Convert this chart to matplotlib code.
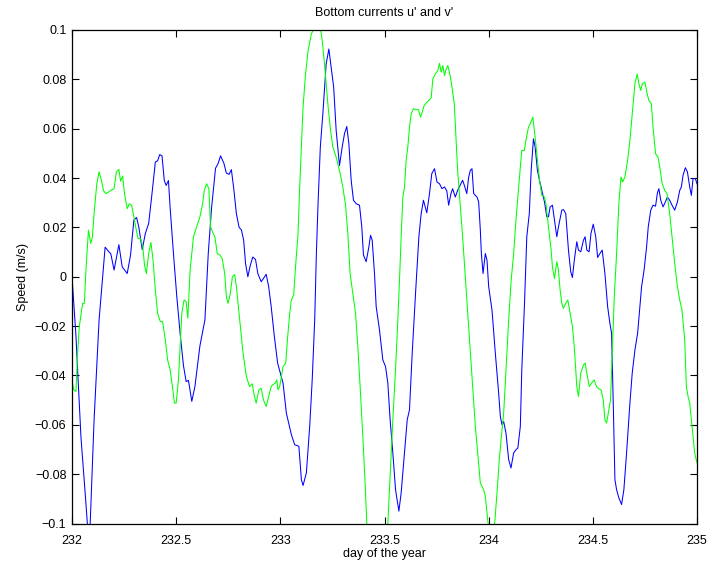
import matplotlib
matplotlib.use("Agg")
import matplotlib.pyplot as plt
import numpy as np

plt.rcParams['font.family'] = ['Liberation Sans', 'DejaVu Sans']

# u' (blue)
u_day = [232.000, 232.019, 232.043, 232.067, 232.077, 232.086, 232.106, 232.130, 232.159, 232.178,
         232.186, 232.202, 232.225, 232.241, 232.265, 232.281, 232.297, 232.310, 232.321, 232.337,
         232.352, 232.368, 232.384, 232.400, 232.411, 232.421, 232.432, 232.443, 232.452, 232.463,
         232.471, 232.487, 232.503, 232.519, 232.535, 232.548, 232.559, 232.575, 232.590, 232.614,
         232.638, 232.654, 232.670, 232.689, 232.702, 232.713, 232.729, 232.741, 232.754, 232.765,
         232.776, 232.789, 232.802, 232.813, 232.824, 232.833, 232.844, 232.856, 232.868, 232.881,
         232.892, 232.908, 232.919, 232.932, 232.944, 232.956, 232.971, 232.987,
         233.013, 233.029, 233.053, 233.069, 233.089, 233.101, 233.109, 233.125, 233.141, 233.153,
         233.165, 233.173, 233.181, 233.192, 233.204, 233.220, 233.233, 233.244, 233.256, 233.268,
         233.284, 233.297, 233.308, 233.319, 233.329, 233.340, 233.351, 233.364, 233.380, 233.391,
         233.399, 233.412, 233.425, 233.433, 233.441, 233.452, 233.460, 233.476, 233.492, 233.505,
         233.516, 233.527, 233.540, 233.553, 233.569, 233.580, 233.596, 233.609, 233.620, 233.633,
         233.649, 233.665, 233.676, 233.687, 233.703, 233.716, 233.727, 233.740, 233.752, 233.764,
         233.776, 233.788, 233.799, 233.808, 233.819, 233.827, 233.840, 233.851, 233.863, 233.875,
         233.883, 233.895,
         233.904, 233.912, 233.920, 233.928, 233.944, 233.952, 233.960, 233.965, 233.973, 233.984,
         233.992, 234.000, 234.016, 234.032, 234.048, 234.056, 234.064, 234.072, 234.083, 234.096,
         234.107, 234.120, 234.131, 234.140, 234.152, 234.159, 234.172, 234.183, 234.195, 234.204,
         234.215, 234.223, 234.234, 234.244, 234.255, 234.268, 234.279, 234.287, 234.295, 234.306,
         234.316, 234.327, 234.335, 234.351, 234.359, 234.370, 234.383, 234.394, 234.402, 234.411,
         234.423, 234.431, 234.442, 234.455, 234.463, 234.471, 234.482, 234.491, 234.502, 234.514,
         234.523, 234.534, 234.545, 234.558, 234.571, 234.582, 234.590, 234.598, 234.606, 234.614,
         234.625, 234.638, 234.649, 234.662, 234.678, 234.689, 234.702, 234.715, 234.726, 234.734,
         234.746, 234.758, 234.766, 234.778, 234.789, 234.801, 234.810, 234.817, 234.826, 234.837,
         234.848, 234.858, 234.869, 234.880, 234.893, 234.906, 234.917, 234.925, 234.933, 234.944,
         234.954, 234.965, 234.973, 234.981, 234.992, 235.000]
u_val = [0.0000, -0.0240, -0.0650, -0.0920, -0.1040, -0.1030, -0.0580, -0.0175, 0.0120, 0.0100,
         0.0094, 0.0027, 0.0130, 0.0040, 0.0013, 0.0088, 0.0230, 0.0240, 0.0200, 0.0110,
         0.0175, 0.0216, 0.0337, 0.0465, 0.0470, 0.0495, 0.0490, 0.0390, 0.0370, 0.0390,
         0.0280, 0.0094, -0.0080, -0.0230, -0.0360, -0.0425, -0.0420, -0.0505, -0.0445, -0.0280,
         -0.0175, 0.0094, 0.0280, 0.0440, 0.0460, 0.0490, 0.0460, 0.0420, 0.0415, 0.0434,
         0.0360, 0.0256, 0.0200, 0.0190, 0.0148, 0.0054, 0.0000, 0.0047, 0.0080, 0.0070,
         0.0013, -0.0020, -0.0007, 0.0010, -0.0040, -0.0120, -0.0240, -0.0350,
         -0.0431, -0.0553, -0.0640, -0.0681, -0.0687, -0.0822, -0.0846, -0.0795, -0.0606, -0.0418,
         -0.0175, 0.0094, 0.0296, 0.0526, 0.0660, 0.0863, 0.0923, 0.0849, 0.0768, 0.0593,
         0.0451, 0.0526, 0.0580, 0.0609, 0.0539, 0.0391, 0.0310, 0.0296, 0.0290, 0.0202,
         0.0088, 0.0061, 0.0121, 0.0168, 0.0148, 0.0013, -0.0121, -0.0216, -0.0337, -0.0364,
         -0.0431, -0.0580, -0.0714, -0.0863, -0.0950, -0.0876, -0.0714, -0.0580, -0.0539, -0.0310,
         -0.0067, 0.0162, 0.0256, 0.0310, 0.0259, 0.0337, 0.0418, 0.0438, 0.0384, 0.0377,
         0.0357, 0.0364, 0.0348, 0.0290, 0.0337, 0.0357, 0.0323, 0.0350, 0.0371, 0.0391,
         0.0371, 0.0337,
         0.0404, 0.0431, 0.0438, 0.0337, 0.0323, 0.0303, 0.0189, 0.0094, 0.0013, 0.0094,
         0.0067, -0.0040, -0.0135, -0.0310, -0.0472, -0.0566, -0.0600, -0.0587, -0.0633, -0.0741,
         -0.0775, -0.0714, -0.0701, -0.0694, -0.0606, -0.0377, -0.0108, 0.0162, 0.0256, 0.0431,
         0.0559, 0.0526, 0.0431, 0.0391, 0.0350, 0.0303, 0.0243, 0.0243, 0.0283, 0.0290,
         0.0229, 0.0162, 0.0202, 0.0270, 0.0272, 0.0256, 0.0108, 0.0020, -0.0003, 0.0067,
         0.0142, 0.0108, 0.0101, 0.0148, 0.0162, 0.0108, 0.0101, 0.0175, 0.0213, 0.0162,
         0.0078, 0.0094, 0.0108, 0.0013, -0.0121, -0.0189, -0.0229, -0.0512, -0.0822, -0.0863,
         -0.0896, -0.0923, -0.0863, -0.0714, -0.0512, -0.0391, -0.0297, -0.0229, -0.0121, -0.0040,
         0.0027, 0.0121, 0.0202, 0.0270, 0.0290, 0.0286, 0.0340, 0.0357, 0.0310, 0.0283,
         0.0303, 0.0323, 0.0310, 0.0290, 0.0270, 0.0303, 0.0350, 0.0364, 0.0411, 0.0442,
         0.0425, 0.0364, 0.0330, 0.0398, 0.0398, 0.0377]

# v' (green)
v_day = [232.000, 232.008, 232.019, 232.027, 232.035, 232.051, 232.059, 232.067, 232.079, 232.090,
         232.098, 232.106, 232.119, 232.130, 232.141, 232.151, 232.162, 232.175, 232.186, 232.202,
         232.213, 232.225, 232.233, 232.243, 232.252, 232.265, 232.275, 232.286, 232.297, 232.310,
         232.317, 232.329, 232.340, 232.348, 232.357, 232.368, 232.379, 232.389, 232.400, 232.411,
         232.424, 232.435, 232.448, 232.459, 232.471, 232.484, 232.492, 232.500, 232.511, 232.527,
         232.538, 232.548, 232.556, 232.567, 232.583, 232.598, 232.614, 232.627, 232.635, 232.646,
         232.657, 232.665, 232.678, 232.686, 232.697, 232.710, 232.721, 232.733, 232.741, 232.749,
         232.760, 232.770, 232.781, 232.789, 232.805, 232.821, 232.837, 232.852, 232.865, 232.876,
         232.884, 232.897, 232.908, 232.919, 232.932, 232.944, 232.956, 232.963, 232.976, 232.983,
         232.989, 232.997, 233.005, 233.013, 233.026, 233.034, 233.045, 233.053, 233.064, 233.073,
         233.085, 233.093, 233.101, 233.109, 233.121, 233.133, 233.149, 233.157, 233.169, 233.180,
         233.192, 233.201, 233.212, 233.228, 233.241, 233.252, 233.268, 233.284, 233.300, 233.313,
         233.324, 233.335, 233.348, 233.361, 233.372, 233.383, 233.396, 233.409, 233.415, 233.440,
         233.465, 233.490, 233.516, 233.527, 233.540, 233.553, 233.564, 233.572, 233.580, 233.588,
         233.596, 233.604, 233.612, 233.620, 233.628, 233.639, 233.652, 233.663, 233.673, 233.681,
         233.689, 233.700, 233.712, 233.724, 233.732, 233.744, 233.756, 233.764, 233.772, 233.780,
         233.788, 233.796, 233.804, 233.815, 233.824, 233.835, 233.843, 233.851, 233.863, 233.875,
         233.891, 233.907, 233.923, 233.936, 233.960, 233.976, 233.984, 233.997, 234.012, 234.029,
         234.040, 234.051, 234.061, 234.072, 234.083, 234.096, 234.108, 234.120, 234.131, 234.144,
         234.152, 234.159, 234.171, 234.179, 234.191, 234.203, 234.212, 234.223, 234.234, 234.244,
         234.255, 234.268, 234.276, 234.287, 234.300, 234.306, 234.316, 234.327, 234.335, 234.343,
         234.351, 234.359, 234.370, 234.380, 234.391, 234.402, 234.411, 234.423, 234.431, 234.442,
         234.455, 234.463, 234.474, 234.483, 234.494, 234.506, 234.518, 234.530, 234.539, 234.550,
         234.558, 234.566, 234.574, 234.585, 234.593, 234.603, 234.614, 234.625, 234.635, 234.643,
         234.654, 234.667, 234.678, 234.689, 234.702, 234.713, 234.721, 234.730, 234.737, 234.750,
         234.761, 234.769, 234.781, 234.789, 234.801, 234.813, 234.821, 234.833, 234.845, 234.856,
         234.869, 234.880, 234.893, 234.906, 234.917, 234.928, 234.941, 234.949, 234.957, 234.965,
         234.973, 234.981, 234.989, 235.000]
v_val = [-0.0418, -0.0458, -0.0465, -0.0310, -0.0202, -0.0108, -0.0108, 0.0027, 0.0189, 0.0135,
         0.0162, 0.0256, 0.0377, 0.0425, 0.0391, 0.0350, 0.0337, 0.0343, 0.0350, 0.0357,
         0.0425, 0.0435, 0.0388, 0.0408, 0.0337, 0.0276, 0.0296, 0.0290, 0.0243, 0.0182,
         0.0155, 0.0155, 0.0121, 0.0047, 0.0013, 0.0094, 0.0139, 0.0067, -0.0054, -0.0148,
         -0.0182, -0.0182, -0.0256, -0.0337, -0.0377, -0.0458, -0.0512, -0.0512, -0.0418, -0.0148,
         -0.0094, -0.0101, -0.0168, 0.0027, 0.0162, 0.0202, 0.0243, 0.0296, 0.0350, 0.0377,
         0.0357, 0.0202, 0.0175, 0.0162, 0.0094, 0.0088, 0.0074, 0.0013, -0.0081, -0.0108,
         -0.0067, 0.0000, 0.0009, -0.0040, -0.0175, -0.0310, -0.0404, -0.0445, -0.0434, -0.0485,
         -0.0512, -0.0458, -0.0452, -0.0499, -0.0526, -0.0485, -0.0445, -0.0438, -0.0431, -0.0418,
         -0.0458, -0.0445, -0.0404, -0.0364, -0.0350, -0.0256, -0.0148, -0.0094, -0.0074, 0.0040,
         0.0175, 0.0364, 0.0526, 0.0687, 0.0822, 0.0916, 0.0984, 0.0998, 0.1030, 0.1040,
         0.1010, 0.0957, 0.0863, 0.0701, 0.0593, 0.0526, 0.0485, 0.0431, 0.0364, 0.0290,
         0.0175, 0.0013, -0.0067, -0.0148, -0.0283, -0.0445, -0.0647, -0.0876, -0.0998, -0.1150,
         -0.1220, -0.1150, -0.1000, -0.0806, -0.0580, -0.0377, -0.0175, -0.0013, 0.0162, 0.0323,
         0.0364, 0.0472, 0.0526, 0.0606, 0.0660, 0.0681, 0.0677, 0.0677, 0.0647, 0.0667,
         0.0691, 0.0704, 0.0714, 0.0725, 0.0802, 0.0822, 0.0836, 0.0865, 0.0829, 0.0856,
         0.0815, 0.0842, 0.0856, 0.0815, 0.0768, 0.0701, 0.0566, 0.0431, 0.0296, 0.0162,
         -0.0040, -0.0243, -0.0445, -0.0606, -0.0836, -0.0863, -0.0890, -0.0998, -0.1040, -0.0998,
         -0.0876, -0.0741, -0.0647, -0.0553, -0.0377, -0.0175, -0.0013, 0.0094, 0.0229, 0.0364,
         0.0445, 0.0512, 0.0512, 0.0553, 0.0606, 0.0627, 0.0647, 0.0566, 0.0472, 0.0391,
         0.0330, 0.0323, 0.0290, 0.0202, 0.0108, 0.0040, -0.0007, 0.0061, 0.0027, -0.0054,
         -0.0108, -0.0128, -0.0108, -0.0094, -0.0148, -0.0202, -0.0283, -0.0445, -0.0485, -0.0391,
         -0.0357, -0.0350, -0.0404, -0.0445, -0.0431, -0.0418, -0.0445, -0.0455, -0.0458, -0.0499,
         -0.0580, -0.0593, -0.0553, -0.0499, -0.0310, -0.0081, 0.0094, 0.0296, 0.0404, 0.0384,
         0.0404, 0.0472, 0.0553, 0.0660, 0.0782, 0.0822, 0.0782, 0.0755, 0.0782, 0.0789,
         0.0741, 0.0714, 0.0701, 0.0606, 0.0499, 0.0485, 0.0445, 0.0377, 0.0350, 0.0337,
         0.0256, 0.0162, 0.0054, -0.0040, -0.0094, -0.0135, -0.0256, -0.0445, -0.0485, -0.0512,
         -0.0580, -0.0647, -0.0714, -0.0755]

x_ticks = [232, 232.5, 233, 233.5, 234, 234.5, 235]
x_labels = ['232', '232.5', '233', '233.5', '234', '234.5', '235']
y_ticks = [-0.1, -0.08, -0.06, -0.04, -0.02, 0, 0.02, 0.04, 0.06, 0.08, 0.1]
y_labels = ['\u22120.1', '\u22120.08', '\u22120.06', '\u22120.04', '\u22120.02', '0',
            '0.02', '0.04', '0.06', '0.08', '0.1']

fig = plt.figure(figsize=(7.11, 5.65), dpi=100)
ax = fig.add_axes([72/711, 1 - 523.5/565, 625/711, 493.5/565])
ax.plot(u_day, u_val, color=(0, 0, 1), lw=0.75)
ax.plot(v_day, v_val, color=(0, 1, 0), lw=0.75)
ax.set_xlim(232, 235)
ax.set_ylim(-0.1, 0.1)
ax.set_xticks(x_ticks)
ax.set_xticklabels(x_labels)
ax.set_yticks(y_ticks)
ax.set_yticklabels(y_labels)
ax.tick_params(direction='in', length=5, width=0.8, top=True, right=True,
               labelsize=9)
ax.tick_params(axis='x', pad=8)
ax.tick_params(axis='y', pad=4)
for s in ax.spines.values():
    s.set_linewidth(0.9)
ax.set_title("Bottom currents u' and v'", fontsize=9, pad=10)
ax.set_xlabel('day of the year', fontsize=9, labelpad=1)
ax.set_ylabel('Speed (m/s)', fontsize=9, labelpad=4)
fig.savefig('out.png', dpi=100)
